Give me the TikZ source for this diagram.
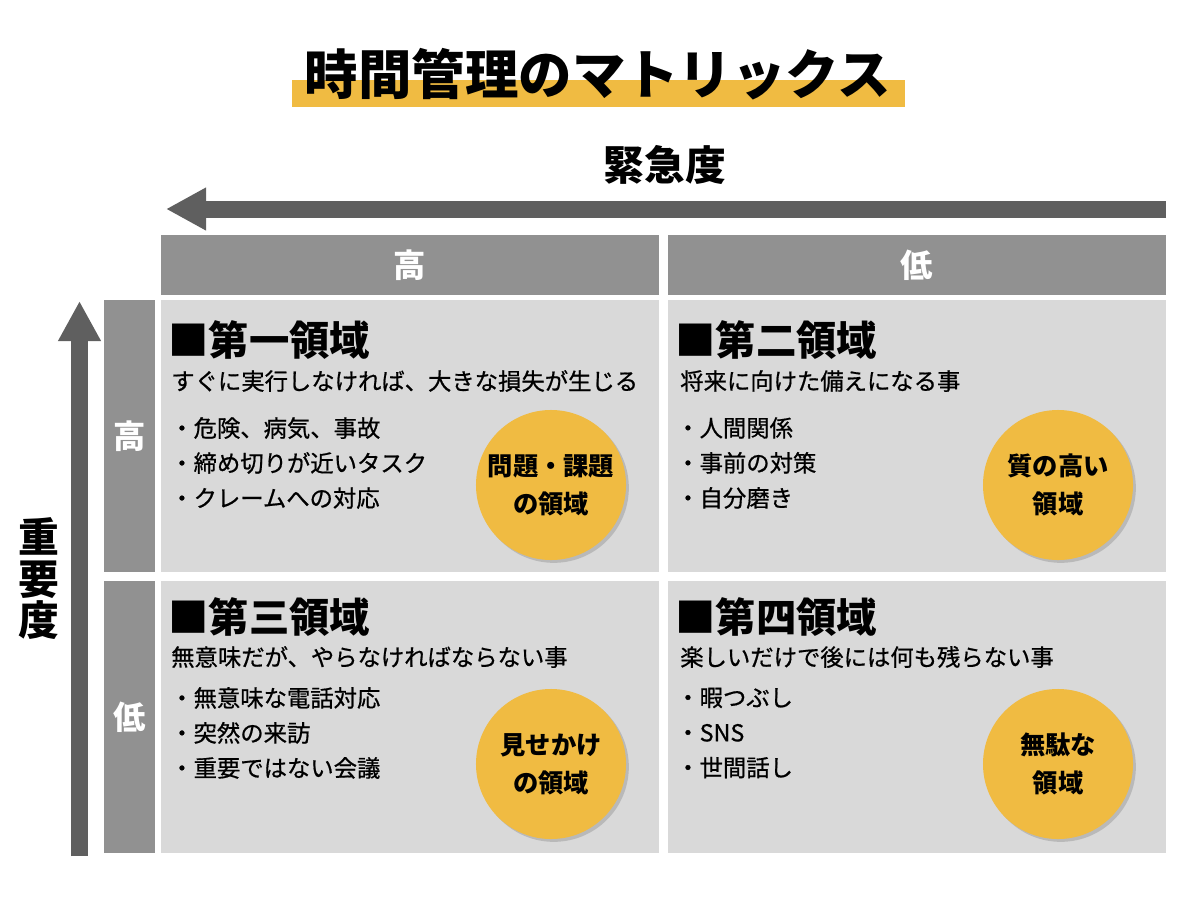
\documentclass[tikz,border=0pt]{standalone}
\usepackage{fontspec}
\setmainfont{Noto Sans CJK JP}
\newfontfamily\jpmed{Noto Sans CJK JP}[FakeBold=0.7]
\usetikzlibrary{arrows.meta, shadows}
\definecolor{matyellow}{RGB}{240,187,66}
\definecolor{hdrgray}{RGB}{145,145,145}
\definecolor{axisgray}{RGB}{95,95,95}
\definecolor{quadgray}{RGB}{217,217,217}

\begin{document}
\begin{tikzpicture}[
    x=0.025cm, y=-0.025cm,
    quad/.style={rectangle, fill=quadgray, minimum width=12.45cm, minimum height=6.8cm, inner sep=0},
    colhead/.style={rectangle, fill=hdrgray, minimum width=12.45cm, minimum height=1.5cm, inner sep=0, text=white, font=\fontsize{23}{23}\selectfont\bfseries},
    rowhead/.style={rectangle, fill=hdrgray, minimum width=1.275cm, minimum height=6.8cm, inner sep=0, text=white, font=\fontsize{23}{23}\selectfont\bfseries},
    qtitle/.style={anchor=west, inner sep=0, font=\fontsize{28.7}{30}\selectfont\bfseries},
    qsub/.style={anchor=west, inner sep=0, font=\fontsize{16.6}{20}\selectfont\jpmed},
    qlist/.style={anchor=west, inner sep=0, align=left, font=\fontsize{16.6}{24.9}\selectfont\jpmed},
    zone/.style={circle, fill=matyellow, minimum size=3.75cm, inner sep=0, align=center, font=\fontsize{18}{27}\selectfont\bfseries, drop shadow={shadow xshift=2pt, shadow yshift=-2pt, opacity=0.35}},
    axis/.style={line width=0.425cm, axisgray, -{Triangle[length=1cm, width=1cm]}}
  ]
  \useasboundingbox (0,0) rectangle (1200,901);

  % title
  \node[rectangle, fill=matyellow, minimum width=15.325cm, minimum height=0.675cm, inner sep=0] (titlebar) at (598.5,93.5) {};
  \node[font=\fontsize{38}{38}\selectfont\bfseries, inner sep=0] (title) at (598,74) {時間管理のマトリックス};

  % axes
  \node[font=\fontsize{29}{29}\selectfont\bfseries, inner sep=0] (urglabel) at (665,165) {緊急度};
  \coordinate (urgS) at (1166,209);
  \coordinate (urgE) at (166,209);
  \draw[axis] (urgS) -- (urgE);

  \node[font=\fontsize{29}{29.5}\selectfont\bfseries, align=center, inner sep=0] (implabel) at (39,579) {重\\要\\度};
  \coordinate (impS) at (79.5,856);
  \coordinate (impE) at (79.5,301);
  \draw[axis] (impS) -- (impE);

  % headers
  \node[colhead] (colhi) at (410,265) {高};
  \node[colhead] (collo) at (917,265) {低};
  \node[rowhead] (rowhi) at (129.5,436) {高};
  \node[rowhead] (rowlo) at (129.5,717) {低};

  % quadrants
  \node[quad] (q1) at (410,436) {};
  \node[quad] (q2) at (917,436) {};
  \node[quad] (q3) at (410,717) {};
  \node[quad] (q4) at (917,717) {};

  \node[qtitle] (q1t) at (168,340) {■第一領域};
  \node[qsub] (q1s) at (171,381) {すぐに実行しなければ、大きな損失が生じる};
  \node[qlist] (q1l) at (170,463) {・危険、病気、事故\\・締め切りが近いタスク\\・クレームへの対応};
  \node[zone] (z1) at (551,485) {問題・課題\\の領域};

  \node[qtitle] (q2t) at (675,340) {■第二領域};
  \node[qsub] (q2s) at (680,381) {将来に向けた備えになる事};
  \node[qlist] (q2l) at (676,463) {・人間関係\\・事前の対策\\・自分磨き};
  \node[zone] (z2) at (1058,485) {質の高い\\領域};

  \node[qtitle] (q3t) at (168,617) {■第三領域};
  \node[qsub] (q3s) at (171,657) {無意味だが、やらなければならない事};
  \node[qlist] (q3l) at (170,733) {・無意味な電話対応\\・突然の来訪\\・重要ではない会議};
  \node[zone] (z3) at (551,764) {見せかけ\\の領域};

  \node[qtitle] (q4t) at (675,617) {■第四領域};
  \node[qsub] (q4s) at (680,657) {楽しいだけで後には何も残らない事};
  \node[qlist] (q4l) at (676,733) {・暇つぶし\\・SNS\\・世間話し};
  \node[zone] (z4) at (1058,764) {無駄な\\領域};
\end{tikzpicture}
\end{document}
